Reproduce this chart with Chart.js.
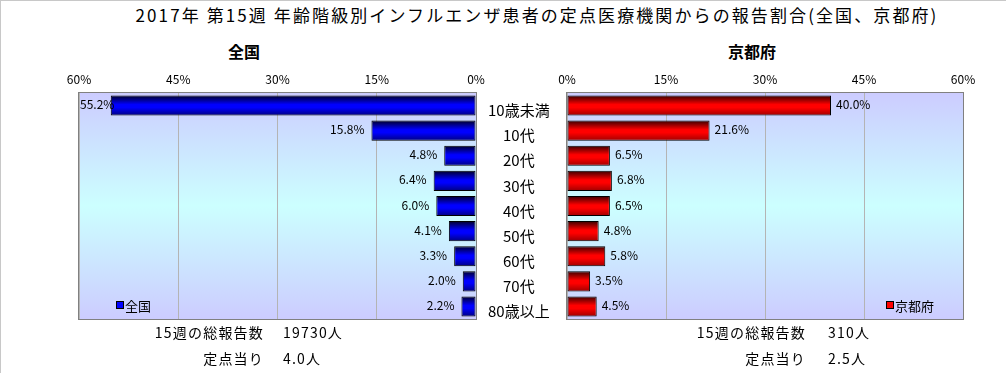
<!DOCTYPE html>
<html lang="ja">
<head>
<meta charset="utf-8">
<script src="https://cdn.jsdelivr.net/npm/chart.js"></script>
<style>
html, body { margin: 0; padding: 0; background: #fff; }
body { width: 1006px; height: 373px; position: relative; overflow: hidden;
       font-family: "Noto Sans CJK JP", sans-serif; color: #000; }
.frame { position: absolute; left: 0; top: 0; width: 1006px; height: 373px; box-sizing: border-box;
         border-top: 1px solid #c8c8c8; border-left: 1px solid #c8c8c8; }
.txt { position: absolute; white-space: nowrap; line-height: 1; }
#title { left: 537px; top: 6px; transform: translateX(-50%); font-size: 17px; letter-spacing: 2.1px; }
.sub { top: 43px; transform: translateX(-50%); font-size: 16px; font-weight: bold; }
.foot { font-size: 14px; letter-spacing: 1.2px; }
.r { text-align: right; }
.leg { font-size: 13px; top: 299px; }
.leg i { display: inline-block; width: 6px; height: 6px; border: 1px solid #000; margin-right: 1px; vertical-align: 2px; }
canvas { position: absolute; top: 60px; }
#cvL { left: 0; }
#cvR { left: 557px; }
</style>
</head>
<body>
<div class="frame"></div>
<div id="title" class="txt">2017年 第15週 年齢階級別インフルエンザ患者の定点医療機関からの報告割合(全国、京都府)</div>
<div class="txt sub" style="left:244px">全国</div>
<div class="txt sub" style="left:752px">京都府</div>

<canvas id="cvL" width="567" height="265"></canvas>
<canvas id="cvR" width="449" height="265"></canvas>

<div class="txt leg" style="left:116px"><i style="background:#0000ff"></i>全国</div>
<div class="txt leg" style="left:886px"><i style="background:#ff0000"></i>京都府</div>

<div class="txt foot r" style="right:742px; top:325px">15週の総報告数</div>
<div class="txt foot" style="left:283px; top:325px">19730人</div>
<div class="txt foot r" style="right:742px; top:351px">定点当り</div>
<div class="txt foot" style="left:283px; top:351px">4.0人</div>

<div class="txt foot r" style="right:200px; top:325px">15週の総報告数</div>
<div class="txt foot" style="left:828px; top:325px">310人</div>
<div class="txt foot r" style="right:200px; top:351px">定点当り</div>
<div class="txt foot" style="left:828px; top:351px">2.5人</div>

<script>
(function () {
    'use strict';

    // ===== データ =====
    const ageGroups = ['10歳未満', '10代', '20代', '30代', '40代', '50代', '60代', '70代', '80歳以上'];
    const zenkoku = [55.2, 15.8, 4.8, 6.4, 6.0, 4.1, 3.3, 2.0, 2.2];   // 全国 (%)
    const kyoto = [40.0, 21.6, 6.5, 6.8, 6.5, 4.8, 5.8, 3.5, 4.5];     // 京都府 (%)
    const pctTicks = [0, 15, 30, 45, 60];

    Chart.defaults.font.family = '"Noto Sans CJK JP", sans-serif';
    Chart.defaults.color = '#000';

    // 棒のグラデーション（上下が暗い）
    function barFill(stops) {
        return function (c) {
            const chart = c.chart;
            const area = chart.chartArea;
            if (!area || c.dataIndex === undefined) return stops[1];
            const band = (area.bottom - area.top) / ageGroups.length;
            const h = band * 0.8;
            const yc = chart.scales.y.getPixelForValue(c.dataIndex);
            const g = chart.ctx.createLinearGradient(0, yc - h / 2, 0, yc + h / 2);
            g.addColorStop(0, stops[0]);
            g.addColorStop(0.45, stops[1]);
            g.addColorStop(0.6, stops[1]);
            g.addColorStop(1, stops[2]);
            return g;
        };
    }

    // プロット領域の背景と枠
    const plotBg = {
        id: 'plotBg',
        beforeDraw(chart) {
            const a = chart.chartArea, ctx = chart.ctx;
            const g = ctx.createLinearGradient(0, a.top, 0, a.bottom);
            g.addColorStop(0, '#ccccff');
            g.addColorStop(0.5, '#ccffff');
            g.addColorStop(1, '#ccccff');
            ctx.save();
            ctx.fillStyle = g;
            ctx.fillRect(a.left, a.top, a.right - a.left, a.bottom - a.top);
            ctx.restore();
        },
        beforeDatasetsDraw(chart) {
            const a = chart.chartArea, ctx = chart.ctx;
            ctx.save();
            ctx.strokeStyle = '#808080';
            ctx.lineWidth = 1;
            ctx.strokeRect(a.left - 0.5, a.top - 0.5, a.right - a.left + 1, a.bottom - a.top + 1);
            ctx.restore();
        }
    };

    // 値ラベル
    const valueLabels = {
        id: 'valueLabels',
        afterDatasetsDraw(chart, args, opts) {
            const ctx = chart.ctx, a = chart.chartArea;
            const meta = chart.getDatasetMeta(0);
            const data = chart.data.datasets[0].data;
            ctx.save();
            ctx.font = '12px "Noto Sans CJK JP", sans-serif';
            ctx.fillStyle = '#000';
            ctx.textBaseline = 'middle';
            ctx.textAlign = 'left';
            meta.data.forEach(function (bar, i) {
                const txt = data[i].toFixed(1) + '%';
                const w = ctx.measureText(txt).width;
                if (opts.side === 'left') {
                    let x = bar.x - 7 - w;
                    if (x < a.left + 1) x = a.left + 1;
                    ctx.fillText(txt, x, bar.y - 1);
                } else {
                    ctx.fillText(txt, bar.x + 5, bar.y - 1);
                }
            });
            ctx.restore();
        }
    };

    function xScale(reverse) {
        return {
            position: 'top',
            reverse: reverse,
            min: pctTicks[0],
            max: pctTicks[pctTicks.length - 1],
            afterBuildTicks(s) { s.ticks = pctTicks.map(v => ({ value: v })); },
            ticks: { padding: 6, font: { size: 12 }, callback: v => v + '%' },
            grid: { color: '#b4b4b4', drawTicks: false },
            border: { display: false },
            afterFit(s) { s.height = 33; s.paddingLeft = 0; s.paddingRight = 0; }
        };
    }

    function dataset(label, values, stops) {
        return {
            label: label,
            data: values,
            backgroundColor: barFill(stops),
            borderColor: '#000',
            borderWidth: 1,
            borderSkipped: false,
            barPercentage: 0.8,
            categoryPercentage: 1.0
        };
    }

    // 全国（左、軸反転、カテゴリ名を右側に表示）
    new Chart(document.getElementById('cvL'), {
        type: 'bar',
        data: { labels: ageGroups, datasets: [dataset('全国', zenkoku, ['#000028', '#0000ff', '#000080'])] },
        options: {
            indexAxis: 'y',
            responsive: false,
            animation: false,
            layout: { padding: { left: 79, right: 0, top: 0, bottom: 6 } },
            plugins: { legend: { display: false }, tooltip: { enabled: false }, valueLabels: { side: 'left' } },
            scales: {
                x: xScale(true),
                y: {
                    position: 'right',
                    grid: { display: false, drawTicks: false },
                    border: { display: false },
                    ticks: { crossAlign: 'center', padding: 12, labelOffset: 5, font: { size: 15 } },
                    afterFit(s) { s.width = 91; s.paddingTop = 0; s.paddingBottom = 0; }
                }
            }
        },
        plugins: [plotBg, valueLabels]
    });

    // 京都府（右）
    new Chart(document.getElementById('cvR'), {
        type: 'bar',
        data: { labels: ageGroups, datasets: [dataset('京都府', kyoto, ['#380000', '#ff0000', '#a00000'])] },
        options: {
            indexAxis: 'y',
            responsive: false,
            animation: false,
            layout: { padding: { left: 10, right: 43, top: 0, bottom: 6 } },
            plugins: { legend: { display: false }, tooltip: { enabled: false }, valueLabels: { side: 'right' } },
            scales: {
                x: xScale(false),
                y: { display: false, afterFit(s) { s.paddingTop = 0; s.paddingBottom = 0; } }
            }
        },
        plugins: [plotBg, valueLabels]
    });
})();
</script>
</body>
</html>
